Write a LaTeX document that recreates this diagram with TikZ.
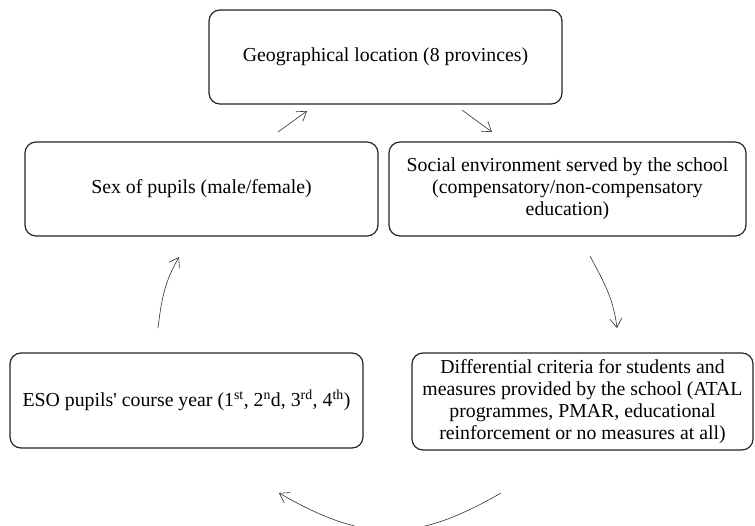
\documentclass[tikz,border=0pt]{standalone}
\usepackage{fontspec}
\setmainfont{Liberation Serif}[Ligatures=TeXOff]
\usetikzlibrary{arrows.meta}
\begin{document}
\begin{tikzpicture}[x=1pt,y=1pt,
  box/.style={draw=black!85, line width=1.2pt, rounded corners=11pt, align=center, inner sep=0pt,
    font=\fontsize{19.8}{22}\selectfont},
  conn/.style={draw=black!80, line width=0.6pt, -{Straight Barb[length=9pt,width=12pt]}}]
\clip (0,0) rectangle (755,-525);
\fill[white] (0,0) rectangle (755,-525);
\node[box, minimum width=353pt, minimum height=94pt] (geo) at (385.5,-57) {Geographical location (8 provinces)};
\node[box, minimum width=353pt, minimum height=94pt] (sex) at (201.5,-189) {Sex of pupils (male/female)};
\node[box, minimum width=357pt, minimum height=94pt] (soc) at (567.5,-189) {Social environment served by the school\\(compensatory/non-compensatory\\education)};
\node[box, minimum width=353pt, minimum height=95pt] (eso) at (186.5,-400.5) {ESO pupils' course year (1\textsuperscript{st}, 2\textsuperscript{n}d, 3\textsuperscript{rd}, 4\textsuperscript{th})};
\node[box, minimum width=341pt, minimum height=97pt] (dif) at (582.5,-401.5) {Differential criteria for students and\\measures provided by the school (ATAL\\programmes, PMAR, educational\\reinforcement or no measures at all)};
\coordinate (a1s) at (278,-132); \coordinate (a1e) at (307,-111);
\coordinate (a2s) at (462,-110); \coordinate (a2e) at (492,-132);
\coordinate (a3s) at (590,-256); \coordinate (a3e) at (617,-328);
\coordinate (a4s) at (501,-493); \coordinate (a4e) at (279,-493);
\coordinate (a5s) at (158,-328); \coordinate (a5e) at (179,-257);
\draw[conn] (a1s) -- (a1e);
\draw[conn] (a2s) -- (a2e);
\draw[conn] (a3s) to[out=-62,in=97] (a3e);
\draw[conn] (a4s) to[out=-150,in=-30,looseness=1.15] (a4e);
\draw[conn] (a5s) to[out=83,in=-120] (a5e);
\end{tikzpicture}
\end{document}
